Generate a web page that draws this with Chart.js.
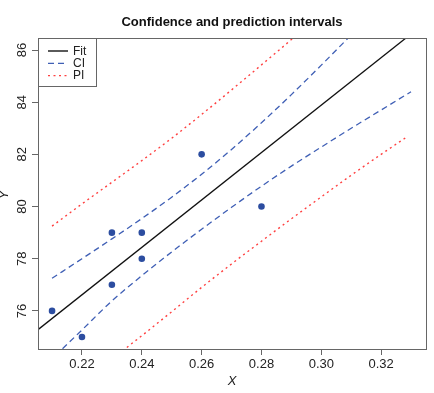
<!DOCTYPE html>
<html>
<head>
<meta charset="utf-8">
<script src="https://cdn.jsdelivr.net/npm/chart.js@4.4.0/dist/chart.umd.min.js"></script>
<style>
    html, body { margin: 0; padding: 0; background: #ffffff; }
</style>
</head>
<body>
<canvas id="ciChart" width="434" height="393"></canvas>
<script>
// ================= data ===========================================
var obsX = [0.21, 0.22, 0.23, 0.23, 0.24, 0.24, 0.26, 0.28];
var obsY = [76, 75, 77, 79, 78, 79, 82, 80];

var fitX = [0.2053, 0.3283];
var fitY = [75.28, 86.46];

var ciUpX = [0.21, 0.22, 0.23, 0.24, 0.25, 0.26, 0.27, 0.28, 0.29, 0.30, 0.309];
var ciUpY = [77.25, 78.0, 78.76, 79.54, 80.36, 81.24, 82.19, 83.21, 84.29, 85.42, 86.46];

var ciLoX = [0.2135, 0.22, 0.23, 0.24, 0.25, 0.26, 0.27, 0.28, 0.29, 0.30, 0.31, 0.32, 0.33];
var ciLoY = [74.55, 75.27, 76.38, 77.35, 78.26, 79.13, 79.97, 80.78, 81.55, 82.28, 83.0, 83.7, 84.4];

var piUpX = [0.21, 0.22, 0.23, 0.24, 0.25, 0.26, 0.27, 0.28, 0.29, 0.292];
var piUpY = [79.25, 80.1, 80.93, 81.76, 82.62, 83.53, 84.47, 85.43, 86.4, 86.6];

var piLoX = [0.235, 0.24, 0.25, 0.26, 0.27, 0.28, 0.29, 0.30, 0.31, 0.32, 0.329];
var piLoY = [74.6, 75.05, 75.97, 76.9, 77.8, 78.67, 79.53, 80.37, 81.2, 82.0, 82.7];

var xTicks = [0.22, 0.24, 0.26, 0.28, 0.30, 0.32];
var yTicks = [76, 78, 80, 82, 84, 86];

var legendNames = ['Fit', 'CI', 'PI'];

function toPoints(xs, ys) {
    return xs.map(function (x, i) { return { x: x, y: ys[i] }; });
}

var axisGrey = '#666666';
var ciBlue = '#3f5fb5';
var piRed = '#ff4040';

// draws the R style frame, rotated y labels, titles and the legend box
var rDecor = {
    id: 'rDecor',
    afterDraw: function (chart) {
        var ctx = chart.ctx,
            area = chart.chartArea,
            yScale = chart.scales.y;

        ctx.save();
        ctx.strokeStyle = axisGrey;
        ctx.lineWidth = 1;
        ctx.strokeRect(area.left + 0.5, area.top + 0.5, area.right - area.left, area.bottom - area.top);

        // y tick labels, rotated like R's las=0
        ctx.fillStyle = '#222222';
        ctx.font = '13px "Liberation Sans", Arial, sans-serif';
        ctx.textAlign = 'center';
        ctx.textBaseline = 'middle';
        yTicks.forEach(function (v) {
            var py = yScale.getPixelForValue(v);
            ctx.save();
            ctx.translate(22, py);
            ctx.rotate(-Math.PI / 2);
            ctx.fillText(String(v), 0, 0);
            ctx.restore();
        });

        // title
        var midX = (area.left + area.right) / 2;
        ctx.fillStyle = '#111111';
        ctx.font = 'bold 13px "Liberation Sans", Arial, sans-serif';
        ctx.fillText('Confidence and prediction intervals', midX, 22);

        // axis titles
        ctx.font = 'italic 13px "Liberation Sans", Arial, sans-serif';
        ctx.fillStyle = '#222222';
        ctx.fillText('X', midX, 381);
        ctx.save();
        ctx.translate(4, 195);
        ctx.rotate(-Math.PI / 2);
        ctx.fillText('Y', 0, 0);
        ctx.restore();

        // legend
        var lx = area.left, ly = area.top;
        ctx.fillStyle = '#ffffff';
        ctx.fillRect(lx + 1, ly + 1, 57, 47);
        ctx.strokeStyle = axisGrey;
        ctx.strokeRect(lx + 0.5, ly + 0.5, 58, 48);

        var styles = [
            { color: '#000000', dash: [] },
            { color: ciBlue, dash: [6, 4] },
            { color: piRed, dash: [2, 3.5] }
        ];
        ctx.font = '12px "Liberation Sans", Arial, sans-serif';
        ctx.textAlign = 'left';
        legendNames.forEach(function (name, i) {
            var rowY = ly + 12.5 + i * 12.3;
            ctx.beginPath();
            ctx.setLineDash(styles[i].dash);
            ctx.strokeStyle = styles[i].color;
            ctx.lineWidth = 1.3;
            ctx.moveTo(lx + 10, rowY + 0.5);
            ctx.lineTo(lx + 30, rowY + 0.5);
            ctx.stroke();
            ctx.setLineDash([]);
            ctx.fillStyle = '#222222';
            ctx.fillText(name, lx + 35, rowY + 1);
        });
        ctx.restore();
    }
};

var curveStyle = {
    showLine: true,
    cubicInterpolationMode: 'monotone',
    pointRadius: 0,
};

var ciChart = new Chart(document.getElementById('ciChart').getContext('2d'), {
    type: 'scatter',
    data: {
        datasets: [{
            label: 'obs',
            data: toPoints(obsX, obsY),
            pointRadius: 3.3,
            pointBackgroundColor: '#2c4da0',
            pointBorderWidth: 0,
        }, {
            label: 'Fit',
            data: toPoints(fitX, fitY),
            showLine: true,
            borderColor: '#111111',
            borderWidth: 1.3,
            pointRadius: 0,
        }, Object.assign({
            label: 'CI upper',
            data: toPoints(ciUpX, ciUpY),
            borderColor: ciBlue,
            borderWidth: 1.3,
            borderDash: [6, 4],
        }, curveStyle), Object.assign({
            label: 'CI lower',
            data: toPoints(ciLoX, ciLoY),
            borderColor: ciBlue,
            borderWidth: 1.3,
            borderDash: [6, 4],
        }, curveStyle), Object.assign({
            label: 'PI upper',
            data: toPoints(piUpX, piUpY),
            borderColor: piRed,
            borderWidth: 1.4,
            borderDash: [2, 3.5],
        }, curveStyle), Object.assign({
            label: 'PI lower',
            data: toPoints(piLoX, piLoY),
            borderColor: piRed,
            borderWidth: 1.4,
            borderDash: [2, 3.5],
        }, curveStyle)]
    },
    options: {
        responsive: false,
        animation: false,
        layout: {
            padding: { left: 0, right: 8, top: 38, bottom: 0 }
        },
        plugins: {
            legend: { display: false },
            tooltip: { enabled: false },
        },
        scales: {
            x: {
                type: 'linear',
                min: 0.2053,
                max: 0.335,
                afterBuildTicks: function (scale) {
                    scale.ticks = xTicks.map(function (v) { return { value: v }; });
                },
                afterFit: function (scale) { scale.height = 44; },
                grid: {
                    drawOnChartArea: false,
                    drawTicks: true,
                    tickLength: 6,
                    color: axisGrey,
                },
                border: { display: true, color: axisGrey },
                ticks: {
                    padding: 2,
                    color: '#222222',
                    font: { family: '"Liberation Sans", Arial, sans-serif', size: 13 },
                    maxRotation: 0,
                    callback: function (v) { return Number(v).toFixed(2); },
                },
            },
            y: {
                type: 'linear',
                min: 74.54,
                max: 86.46,
                afterBuildTicks: function (scale) {
                    scale.ticks = yTicks.map(function (v) { return { value: v }; });
                },
                afterFit: function (scale) { scale.width = 38; },
                grid: {
                    drawOnChartArea: false,
                    drawTicks: true,
                    tickLength: 6,
                    color: axisGrey,
                },
                border: { display: true, color: axisGrey },
                ticks: { display: false },
            },
        },
    },
    plugins: [rDecor],
});
</script>
</body>
</html>
